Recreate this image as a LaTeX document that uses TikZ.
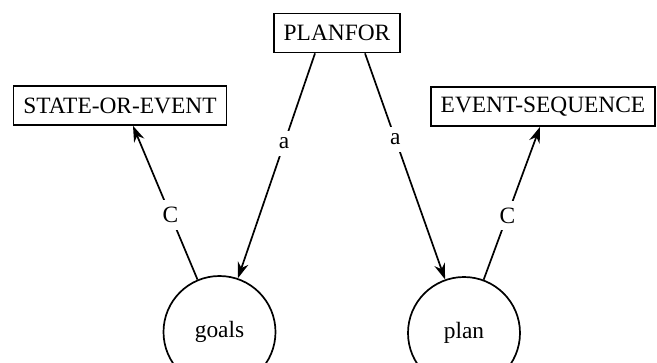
\documentclass[tikz,border=0pt]{standalone}
\usepackage{fontspec}
\setmainfont{Liberation Serif}
\usepackage{tikz}
\usetikzlibrary{arrows.meta}
\usetikzlibrary{calc}

\begin{document}
\begin{tikzpicture}[x=0.5pt,y=-0.5pt,line width=0.85pt,
        box/.style={draw,rectangle,inner xsep=5pt,minimum height=19.5pt,font=\fontsize{11.7}{13}\selectfont},
        concept/.style={draw,circle,minimum size=56pt,inner sep=0pt,font=\fontsize{11.7}{13}\selectfont},
        lab/.style={fill=white,inner sep=3.5pt,font=\fontsize{11.7}{13}\selectfont},
        arc/.style={-{Stealth[length=8pt,width=5.5pt]}}]
            \clip (0,0) rectangle (657,363);
            \useasboundingbox (0,0) rectangle (657,363);
            \node[box] (planfor) at (337,33) {PLANFOR};
            \node[box] (state) at (120,105.5) {STATE-OR-EVENT};
            \node[box] (evseq) at (543,106.5) {EVENT-SEQUENCE};
            \node[concept] (goals) at (219.5,332) {goals};
            \node[concept] (plan) at (464,333) {plan};
            \coordinate (pl) at ($(planfor.south)+(-22,0)$);
            \coordinate (pr) at ($(planfor.south)+(28,0)$);
            \coordinate (sl) at ($(state.south)+(13,0)$);
            \coordinate (er) at ($(evseq.south)+(-3,0)$);
            \draw[arc] (pl) -- node[lab,pos=0.4] {a} (goals);
            \draw[arc] (pr) -- node[lab,pos=0.38] {a} (plan);
            \draw[arc] (goals) -- node[lab,pos=0.42] {C} (sl);
            \draw[arc] (plan) -- node[lab,pos=0.42] {C} (er);
        \end{tikzpicture}
\end{document}
